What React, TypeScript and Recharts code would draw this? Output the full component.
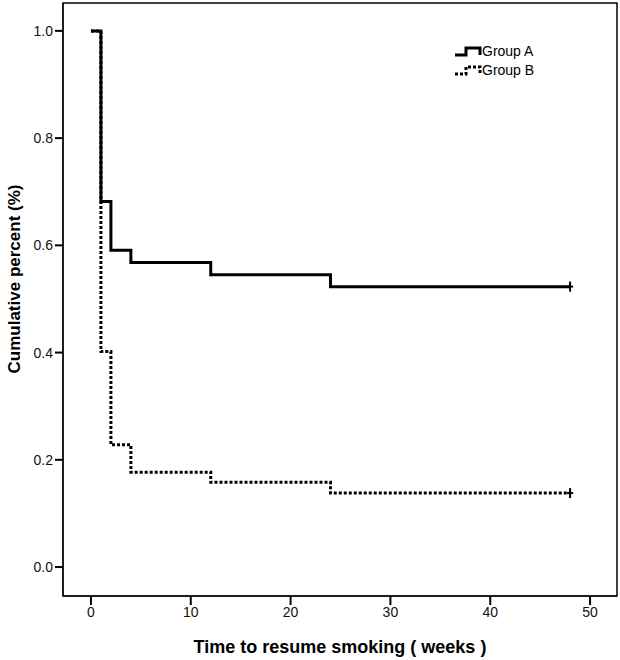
import { Line, LineChart, ReferenceArea, XAxis, YAxis } from "recharts";

// Kaplan-Meier style estimates
const groupA = [
  { week: 0, pct: 1.0 },
  { week: 1, pct: 0.682 },
  { week: 2, pct: 0.591 },
  { week: 4, pct: 0.568 },
  { week: 12, pct: 0.545 },
  { week: 24, pct: 0.523 },
  { week: 48, pct: 0.523 },
];

const groupB = [
  { week: 0, pct: 1.0 },
  { week: 1, pct: 0.402 },
  { week: 2, pct: 0.228 },
  { week: 4, pct: 0.177 },
  { week: 12, pct: 0.158 },
  { week: 24, pct: 0.138 },
  { week: 48, pct: 0.138 },
];

const seriesNames = ["Group A", "Group B"];
const xTicks = [0, 10, 20, 30, 40, 50];
const yTicks = [0, 0.2, 0.4, 0.6, 0.8, 1.0];
const xDomain: [number, number] = [-2.8, 52.7];
const yDomain: [number, number] = [-0.054, 1.052];

const FONT = "'Liberation Sans', Arial, sans-serif";
const DOTTED = "3 2";

function censorDot(last: number) {
  return (props: any) => {
    const { cx, cy, index } = props;
    if (index !== last) return <g key={`d${index}`} />;
    return (
      <g key={`d${index}`}>
        <line x1={cx} x2={cx} y1={cy - 5} y2={cy + 5} stroke="#000" strokeWidth={2} />
        <line x1={cx - 3} x2={cx + 3} y1={cy} y2={cy} stroke="#000" strokeWidth={2} />
      </g>
    );
  };
}

function LegendBox() {
  return (
    <div
      style={{
        position: "absolute",
        left: 454,
        top: 42,
        fontFamily: FONT,
        fontSize: 14,
        color: "#000",
        lineHeight: "19px",
      }}
    >
      {seriesNames.map((name, i) => (
        <div key={name} style={{ display: "flex", alignItems: "center", height: 19 }}>
          <svg width={28} height={14}>
            <path
              d="M1 10 H12 V3 H26 V10"
              fill="none"
              stroke="#000"
              strokeWidth={3}
              strokeDasharray={i === 1 ? DOTTED : undefined}
            />
          </svg>
          <span>{name}</span>
        </div>
      ))}
    </div>
  );
}

function YLabel() {
  return (
    <text
      x={14}
      y={279}
      transform="rotate(-90, 14, 279)"
      textAnchor="middle"
      dominantBaseline="central"
      fontFamily={FONT}
      fontSize={17}
      fontWeight="bold"
      fill="#000"
    >
      Cumulative percent (%)
    </text>
  );
}

export default function App() {
  return (
    <div style={{ position: "absolute", left: 0, top: 0, width: 620, height: 660, background: "#fff" }}>
      <LineChart width={620} height={660} margin={{ top: 3, right: 3, bottom: 0, left: 0 }}>
        <XAxis
          type="number"
          dataKey="week"
          domain={xDomain}
          ticks={xTicks}
          allowDataOverflow
          height={64}
          stroke="#000"
          tickLine={{ stroke: "#000", strokeWidth: 2 }}
          tickSize={9}
          tick={{ fontSize: 14, fill: "#111", fontFamily: FONT }}
          label={{
            value: "Time to resume smoking ( weeks )",
            position: "insideBottom",
            offset: 7,
            style: { fontSize: 18, fontWeight: "bold", fill: "#000", fontFamily: FONT },
          }}
        />
        <YAxis
          type="number"
          domain={yDomain}
          ticks={yTicks}
          allowDataOverflow
          width={63}
          stroke="#000"
          tickLine={{ stroke: "#000", strokeWidth: 2 }}
          tickSize={8}
          tickFormatter={(v: number) => v.toFixed(1)}
          tick={{ fontSize: 14, fill: "#111", fontFamily: FONT }}
          label={<YLabel />}
        />
        <ReferenceArea
          x1={xDomain[0]}
          x2={xDomain[1]}
          y1={yDomain[0]}
          y2={yDomain[1]}
          fill="none"
          stroke="#000"
          strokeWidth={1.5}
          ifOverflow="visible"
        />
        <Line
          data={groupB}
          dataKey="pct"
          name={seriesNames[1]}
          type="stepAfter"
          stroke="#000"
          strokeWidth={3}
          strokeDasharray={DOTTED}
          dot={censorDot(groupB.length - 1)}
          isAnimationActive={false}
        />
        <Line
          data={groupA}
          dataKey="pct"
          name={seriesNames[0]}
          type="stepAfter"
          stroke="#000"
          strokeWidth={3}
          dot={censorDot(groupA.length - 1)}
          isAnimationActive={false}
        />
      </LineChart>
      <LegendBox />
    </div>
  );
}
